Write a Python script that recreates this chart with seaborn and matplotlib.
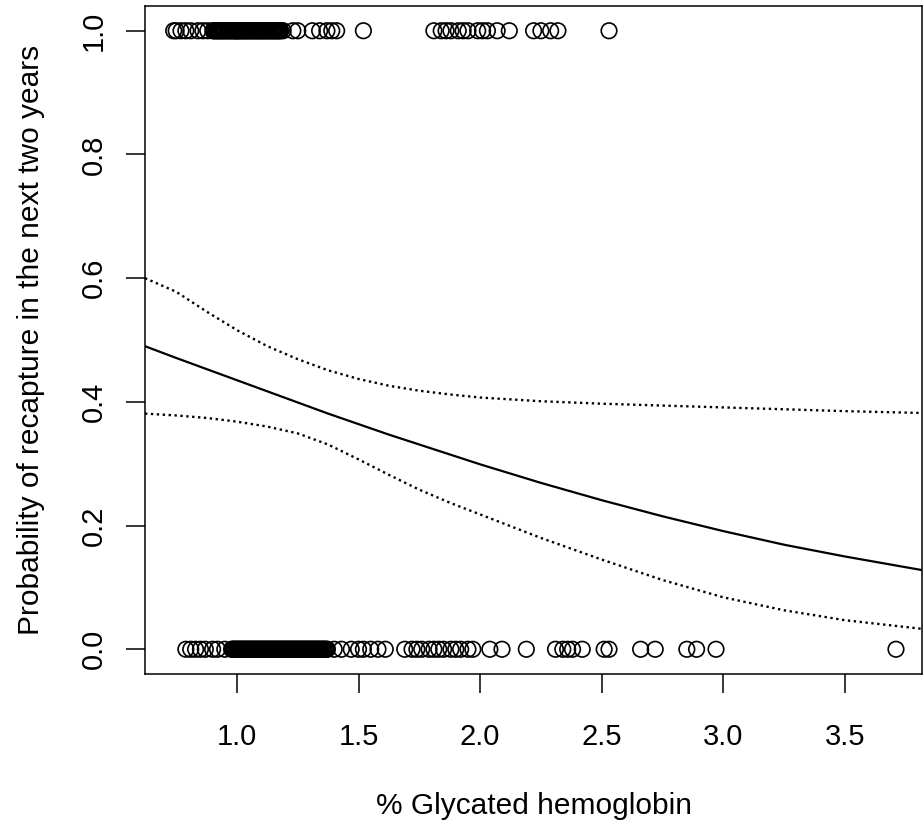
import matplotlib
matplotlib.use("Agg")
import matplotlib.pyplot as plt
import seaborn as sns
import pandas as pd

# Observed outcomes (1 = recaptured, 0 = not)
top_x = [0.74, 0.75, 0.77, 0.79, 0.81, 0.84, 0.86, 0.88,
         0.901, 0.905, 0.909, 0.914, 0.918, 0.923, 0.927, 0.931, 0.936, 0.940,
         0.944, 0.949, 0.953, 0.958, 0.962, 0.966, 0.971, 0.975, 0.980, 0.984,
         0.988, 0.993, 0.997, 1.000, 1.002, 1.006, 1.010, 1.015, 1.019, 1.023,
         1.028, 1.032, 1.037, 1.041, 1.045, 1.050, 1.054, 1.058, 1.063, 1.067,
         1.072, 1.076, 1.080, 1.085, 1.089, 1.094, 1.098, 1.102, 1.107, 1.111,
         1.115, 1.120, 1.124, 1.129, 1.133, 1.137, 1.142, 1.146, 1.151, 1.155,
         1.159, 1.164, 1.168, 1.172, 1.177, 1.181,
         1.19, 1.23, 1.25, 1.31, 1.34, 1.37, 1.39, 1.41, 1.52,
         1.81, 1.84, 1.86, 1.88, 1.91, 1.93, 1.95, 1.99, 2.01, 2.03, 2.07, 2.12,
         2.22, 2.25, 2.29, 2.32, 2.53]
bottom_x = [0.79, 0.81, 0.83, 0.85, 0.87, 0.90, 0.92, 0.95,
            0.978, 0.982, 0.987, 0.991, 0.995, 1.000, 1.004, 1.008, 1.013, 1.017,
            1.021, 1.026, 1.030, 1.034, 1.039, 1.043, 1.047, 1.052, 1.056, 1.060,
            1.065, 1.069, 1.073, 1.078, 1.082, 1.086, 1.091, 1.095, 1.099, 1.104,
            1.108, 1.112, 1.117, 1.121, 1.125, 1.130, 1.134, 1.138, 1.143, 1.147,
            1.151, 1.156, 1.160, 1.164, 1.169, 1.173, 1.177, 1.182, 1.186, 1.190,
            1.195, 1.199, 1.203, 1.208, 1.212, 1.216, 1.221, 1.225, 1.229, 1.234,
            1.238, 1.242, 1.247, 1.251, 1.255, 1.260, 1.264, 1.268, 1.273, 1.277,
            1.281, 1.286, 1.290, 1.294, 1.299, 1.303, 1.307, 1.312, 1.316, 1.320,
            1.325, 1.329, 1.333, 1.338, 1.342, 1.346, 1.351, 1.355, 1.359, 1.364,
            1.368, 1.372,
            1.40, 1.43, 1.47, 1.50, 1.52, 1.55, 1.58, 1.61,
            1.69, 1.72, 1.74, 1.76, 1.79, 1.81, 1.83, 1.85, 1.88, 1.90, 1.92, 1.95, 1.97,
            2.04, 2.09, 2.19, 2.31, 2.34, 2.36, 2.38, 2.42, 2.51, 2.53, 2.66, 2.72,
            2.85, 2.89, 2.97, 3.71]

# Fitted curve and confidence band
curve_x = [0.622, 0.75, 0.875, 1.0, 1.125, 1.25, 1.375, 1.5, 1.625, 1.75, 1.875,
           2.0, 2.25, 2.5, 2.75, 3.0, 3.25, 3.5, 3.817]
fit_y = [0.490, 0.471, 0.453, 0.435, 0.417, 0.399, 0.381, 0.364, 0.347, 0.331, 0.315,
         0.299, 0.269, 0.241, 0.215, 0.191, 0.169, 0.150, 0.128]
upper_y = [0.600, 0.578, 0.546, 0.516, 0.490, 0.469, 0.451, 0.437, 0.426, 0.418, 0.412,
           0.407, 0.401, 0.397, 0.394, 0.391, 0.388, 0.385, 0.382]
lower_y = [0.381, 0.378, 0.374, 0.368, 0.360, 0.349, 0.331, 0.307, 0.282, 0.258, 0.237,
           0.218, 0.180, 0.145, 0.112, 0.084, 0.063, 0.047, 0.033]

x_ticks = [1.0, 1.5, 2.0, 2.5, 3.0, 3.5]
y_ticks = [0.0, 0.2, 0.4, 0.6, 0.8, 1.0]

sns.set_style("white")
plt.rcParams['font.family'] = ['Liberation Sans', 'DejaVu Sans']
plt.rcParams['text.color'] = 'black'
plt.rcParams['axes.labelcolor'] = 'black'
plt.rcParams['xtick.color'] = 'black'
plt.rcParams['ytick.color'] = 'black'

pts = pd.DataFrame({"x": top_x + bottom_x,
                    "y": [1.0] * len(top_x) + [0.0] * len(bottom_x)})
curves = pd.DataFrame({"x": curve_x, "fit": fit_y, "upper": upper_y, "lower": lower_y})

fig = plt.figure(figsize=(9.24, 8.25), dpi=100)
ax = fig.add_axes([145 / 924, 1 - 674 / 825, (922 - 145) / 924, (674 - 6) / 825])

sns.scatterplot(data=pts, x="x", y="y", ax=ax, marker="o", s=125,
                facecolors="none", edgecolors="black", linewidths=1.2, legend=False)
sns.lineplot(data=curves, x="x", y="fit", ax=ax, color="black", linewidth=1.6)
sns.lineplot(data=curves, x="x", y="upper", ax=ax, color="black", linewidth=1.7,
             linestyle=(0, (1, 1.5)))
sns.lineplot(data=curves, x="x", y="lower", ax=ax, color="black", linewidth=1.7,
             linestyle=(0, (1, 1.5)))

ax.set_xlim(0.622, 3.817)
ax.set_ylim(-0.04, 1.04)
ax.set_xticks(x_ticks)
ax.set_xticklabels([f"{v:.1f}" for v in x_ticks])
ax.set_yticks(y_ticks)
ax.set_yticklabels([f"{v:.1f}" for v in y_ticks], rotation=90, va="center")
ax.tick_params(axis="both", direction="out", length=13.5, width=1.1, color="black",
               labelsize=21, bottom=True, left=True)
ax.tick_params(axis="x", pad=22)
ax.tick_params(axis="y", pad=13)
for sp in ax.spines.values():
    sp.set_visible(True)
    sp.set_color("black")
    sp.set_linewidth(1.1)

ax.set_xlabel("% Glycated hemoglobin", fontsize=21.5, labelpad=29)
ax.set_ylabel("Probability of recapture in the next two years", fontsize=21.5, labelpad=25)

fig.savefig("out.png", dpi=100)
